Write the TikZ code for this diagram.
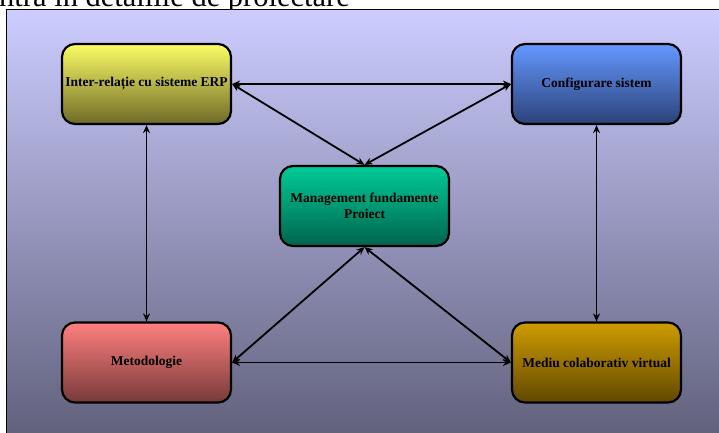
\documentclass[tikz,border=0pt]{standalone}
\usepackage{fontspec}
\setmainfont{Liberation Serif}
\usetikzlibrary{arrows.meta}

\definecolor{backtop}{RGB}{204,204,255}
\definecolor{backbottom}{RGB}{98,98,126}
\definecolor{erptop}{RGB}{252,252,102}
\definecolor{erpbottom}{RGB}{110,106,40}
\definecolor{conftop}{RGB}{100,152,255}
\definecolor{confbottom}{RGB}{44,66,120}
\definecolor{mgmttop}{RGB}{0,204,153}
\definecolor{mgmtbottom}{RGB}{0,100,76}
\definecolor{metotop}{RGB}{255,128,128}
\definecolor{metobottom}{RGB}{120,58,58}
\definecolor{mediutop}{RGB}{206,156,0}
\definecolor{mediubottom}{RGB}{98,72,0}

\begin{document}
\begin{tikzpicture}[x=1pt, y=-1pt,
  box/.style={shape=rectangle, rounded corners=13pt, minimum width=169pt, minimum height=80pt, line width=2.2pt, draw, font=\fontsize{13.5}{16}\selectfont\bfseries, align=center},
  link/.style={{Stealth[length=8pt,width=7pt]}-{Stealth[length=8pt,width=7pt]}, line width=1.8pt}]

\useasboundingbox (0,0) rectangle (719,432);
\clip (0,0) rectangle (719,432);

\node[name=heading, anchor=base east, inner sep=0pt, font=\fontsize{30.5}{32}\selectfont] at (350,6) {ntra în detaliile de proiectare};

% fundal
\fill[top color=backtop, bottom color=backbottom] (6.5,9.5) rectangle (725,432);
\draw[line width=1pt] (6.5,440) -- (6.5,9.5) -- (725,9.5);

\node[name=erp, box, top color=erptop, bottom color=erpbottom] at (146.5,84) {Inter-relație cu sisteme ERP};
\node[name=config, box, top color=conftop, bottom color=confbottom] at (596.5,84) {Configurare sistem};
\node[name=mgmt, box, top color=mgmttop, bottom color=mgmtbottom] at (364.5,206) {Management fundamente\\Proiect};
\node[name=meto, box, top color=metotop, bottom color=metobottom] at (146.5,362.5) {Metodologie};
\node[name=mediu, box, top color=mediutop, bottom color=mediubottom] at (596.5,362.5) {Mediu colaborativ virtual};

\draw[link] (erp.east) -- (config.west);
\draw[link] (erp.east) -- (mgmt.north);
\draw[link] (config.west) -- (mgmt.north);
\draw[link] (erp.south) -- (meto.north);
\draw[link] (config.south) -- (mediu.north);
\draw[link] (meto.east) -- (mediu.west);
\draw[link] (meto.east) -- (mgmt.south);
\draw[link] (mediu.west) -- (mgmt.south);

\end{tikzpicture}
\end{document}
